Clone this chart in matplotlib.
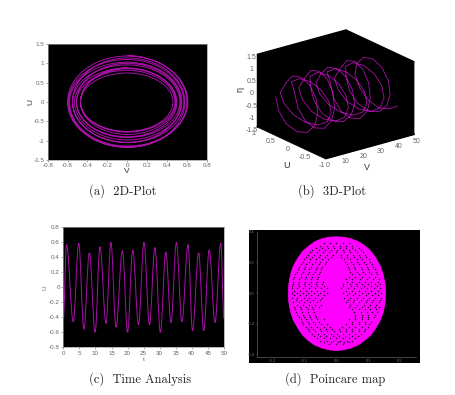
import matplotlib
matplotlib.use('Agg')
import matplotlib.pyplot as plt
from matplotlib.path import Path
from matplotlib.patches import PathPatch, Polygon

plt.rcParams['font.family'] = ['Liberation Sans', 'DejaVu Sans']

W, H = 456, 395
PURPLE = '#a810a8'
MAGENTA = '#ff00ff'
GREY = '#666666'

# (a) extremes of each turn of the orbit
u_top = [1.2, 1.1, 0.96, 0.82, 0.75, 0.86, 1.0, 1.14, 1.19, 1.03, 0.88]
v_right = [0.6, 0.57, 0.53, 0.48, 0.46, 0.5, 0.54, 0.58, 0.61, 0.55, 0.49]
u_bottom = [-1.17, -1.05, -0.92, -0.78, -0.76, -0.9, -1.04, -1.17, -1.14, -0.98, -0.84]
v_left = [-0.59, -0.55, -0.51, -0.47, -0.47, -0.51, -0.55, -0.6, -0.58, -0.53, -0.47]

# (b) trajectory, read turn by turn
v_3d = [2.0, 2.4, 2.8, 3.3, 3.7, 4.1, 4.5, 4.9, 5.3, 5.8, 6.2, 6.6,
        7.0, 7.4, 7.8, 8.3, 8.7, 9.1, 9.5, 9.9, 10.3, 10.8, 11.2, 11.6,
        12.0, 12.4, 12.8, 13.3, 13.7, 14.1, 14.5, 14.9, 15.3, 15.8, 16.2, 16.6,
        17.0, 17.4, 17.8, 18.3, 18.7, 19.1, 19.5, 19.9, 20.3, 20.8, 21.2, 21.6,
        22.0, 22.4, 22.8, 23.3, 23.7, 24.1, 24.5, 24.9, 25.3, 25.8, 26.2, 26.6,
        27.0, 27.4, 27.8, 28.3, 28.7, 29.1, 29.5, 29.9, 30.3, 30.8, 31.2, 31.6,
        32.0, 32.4, 32.8, 33.3, 33.7, 34.1, 34.5, 34.9, 35.3, 35.8, 36.2, 36.6,
        37.0, 37.4, 37.8, 38.3, 38.7, 39.1, 39.5, 39.9, 40.3, 40.8, 41.2, 41.6,
        42.0, 42.4, 42.8, 43.3, 43.7, 44.1, 44.5, 44.9, 45.3, 45.8, 46.2, 46.6,
        47.0, 47.4, 47.8, 48.2, 48.6, 49.0]
u_3d = [0.55, 0.48, 0.28, 0, -0.28, -0.48, -0.55, -0.48, -0.28, 0, 0.28, 0.48,
        0.68, 0.59, 0.34, 0, -0.34, -0.59, -0.68, -0.59, -0.34, 0, 0.34, 0.59,
        0.52, 0.45, 0.26, 0, -0.26, -0.45, -0.52, -0.45, -0.26, 0, 0.26, 0.45,
        0.66, 0.57, 0.33, 0, -0.33, -0.57, -0.66, -0.57, -0.33, 0, 0.33, 0.57,
        0.58, 0.5, 0.29, 0, -0.29, -0.5, -0.58, -0.5, -0.29, 0, 0.29, 0.5,
        0.68, 0.59, 0.34, 0, -0.34, -0.59, -0.68, -0.59, -0.34, 0, 0.34, 0.59,
        0.52, 0.45, 0.26, 0, -0.26, -0.45, -0.52, -0.45, -0.26, 0, 0.26, 0.45,
        0.66, 0.57, 0.33, 0, -0.33, -0.57, -0.66, -0.57, -0.33, 0, 0.33, 0.57,
        0.58, 0.5, 0.29, 0, -0.29, -0.5, -0.58, -0.5, -0.29, 0, 0.29, 0.5,
        0.58, 0.46, 0.23, -0.06, -0.34, -0.56]
eta_3d = [0, -0.55, -0.96, -1.1, -0.96, -0.55, 0, 0.55, 0.96, 1.1, 0.96, 0.55,
          0, -0.41, -0.71, -0.82, -0.71, -0.41, 0, 0.41, 0.71, 0.82, 0.71, 0.41,
          0, -0.58, -1.0, -1.15, -1.0, -0.58, 0, 0.58, 1.0, 1.15, 1.0, 0.58,
          0, -0.44, -0.77, -0.88, -0.77, -0.44, 0, 0.44, 0.77, 0.88, 0.77, 0.44,
          0, -0.52, -0.91, -1.05, -0.91, -0.52, 0, 0.52, 0.91, 1.05, 0.91, 0.52,
          0, -0.41, -0.71, -0.82, -0.71, -0.41, 0, 0.41, 0.71, 0.82, 0.71, 0.41,
          0, -0.58, -1.0, -1.15, -1.0, -0.58, 0, 0.58, 1.0, 1.15, 1.0, 0.58,
          0, -0.44, -0.77, -0.88, -0.77, -0.44, 0, 0.44, 0.77, 0.88, 0.77, 0.44,
          0, -0.52, -0.91, -1.05, -0.91, -0.52, 0, 0.52, 0.91, 1.05, 0.91, 0.52,
          0, -0.5, -0.85, -1.0, -0.85, -0.6]

# (c) peaks and troughs of U(t)
t_ext = [0, 1.0, 3.1, 4.8, 6.4, 8.1, 9.9, 11.4, 13.3, 14.8, 16.4, 18.4, 20.0,
         21.6, 23.4, 25.1, 26.8, 28.5, 30.2, 31.9, 33.5, 35.2, 36.9, 38.8,
         40.2, 42.1, 43.7, 45.4, 47.2, 49.0, 50]
u_ext = [-0.42, 0.57, -0.46, 0.59, -0.56, 0.46, -0.6, 0.54, -0.48, 0.6, -0.53,
         0.49, -0.6, 0.5, -0.5, 0.6, -0.5, 0.53, -0.6, 0.47, -0.47, 0.6, -0.46,
         0.57, -0.58, 0.46, -0.58, 0.5, -0.47, 0.59, -0.42]

# (d) outline of the map and the gaps left between its points
edge_x = [0, 0.024, 0.046, 0.069, 0.088, 0.108, 0.124, 0.138, 0.147, 0.153, 0.155,
          0.153, 0.148, 0.138, 0.124, 0.108, 0.088, 0.069, 0.046, 0.024,
          0, -0.024, -0.046, -0.069, -0.088, -0.106, -0.121, -0.135, -0.144, -0.149, -0.151,
          -0.149, -0.144, -0.135, -0.121, -0.105, -0.084, -0.067, -0.046, -0.024]
edge_y = [0.367, 0.364, 0.354, 0.336, 0.311, 0.274, 0.228, 0.177, 0.12, 0.062, 0,
          -0.062, -0.12, -0.177, -0.228, -0.274, -0.31, -0.338, -0.358, -0.37,
          -0.376, -0.37, -0.358, -0.338, -0.31, -0.274, -0.228, -0.177, -0.12, -0.062, 0,
          0.062, 0.12, 0.177, 0.228, 0.274, 0.311, 0.336, 0.354, 0.364]
gap_rows = {
    0.325: [-0.04, -0.02, 0, 0.02, 0.04],
    0.31: [-0.05, -0.03, -0.01, 0.012, 0.03, 0.05],
    0.295: [-0.065, -0.046, -0.026, -0.008, 0.012, 0.03, 0.05, 0.07],
    0.28: [-0.075, -0.056, -0.036, -0.018, 0.002, 0.02, 0.04, 0.06, 0.078],
    0.265: [-0.082, -0.062, -0.042, -0.022, -0.002, 0.024, 0.044, 0.064, 0.084],
    0.25: [-0.09, -0.07, -0.052, -0.03, -0.012, 0.014, 0.034, 0.052, 0.072, 0.09],
    0.235: [-0.095, -0.075, -0.055, -0.036, -0.018, 0.016, 0.034, 0.054, 0.074, 0.094],
    0.22: [-0.1, -0.083, -0.063, -0.045, -0.026, 0.024, 0.044, 0.064, 0.082, 0.102],
    0.205: [-0.106, -0.086, -0.068, -0.05, -0.032, 0.028, 0.046, 0.066, 0.086, 0.106],
    0.19: [-0.112, -0.094, -0.076, -0.056, -0.036, 0.032, 0.052, 0.072, 0.092, 0.112],
    0.172: [-0.116, -0.098, -0.08, -0.062, -0.044, 0.036, 0.056, 0.076, 0.096, 0.116],
    0.155: [-0.12, -0.1, -0.085, -0.065, -0.048, 0.04, 0.06, 0.08, 0.1, 0.12],
    0.14: [-0.124, -0.104, -0.086, -0.068, -0.05, 0.044, 0.064, 0.084, 0.104, 0.124],
    0.125: [-0.13, -0.11, -0.09, -0.073, -0.055, 0.05, 0.07, 0.09, 0.108, 0.128],
    0.107: [-0.132, -0.112, -0.094, -0.076, -0.058, 0.04, 0.06, 0.082, 0.102, 0.122],
    0.09: [-0.135, -0.118, -0.098, -0.08, -0.06, 0.03, 0.05, 0.075, 0.095, 0.115, 0.133],
    0.075: [-0.136, -0.116, -0.098, -0.08, -0.06, -0.042, 0.032, 0.05, 0.07, 0.09, 0.11, 0.13],
    0.06: [-0.137, -0.12, -0.1, -0.085, -0.065, -0.045, 0.022, 0.042, 0.062, 0.082, 0.1, 0.12, 0.137],
    0.045: [-0.138, -0.118, -0.098, -0.08, -0.06, -0.04, 0.022, 0.045, 0.066, 0.086, 0.108, 0.128],
    0.03: [-0.14, -0.122, -0.105, -0.086, -0.067, -0.047, -0.03, 0.015, 0.035, 0.055, 0.077, 0.097, 0.118, 0.138],
    0.015: [-0.132, -0.114, -0.096, -0.078, -0.06, -0.04, 0.03, 0.05, 0.07, 0.09, 0.11, 0.13],
    0.0: [-0.14, -0.125, -0.105, -0.09, -0.07, -0.05, -0.03, 0.02, 0.04, 0.06, 0.08, 0.1, 0.12, 0.14],
    -0.015: [-0.132, -0.114, -0.096, -0.078, -0.058, -0.038, 0.032, 0.052, 0.072, 0.092, 0.112, 0.132],
    -0.03: [-0.14, -0.122, -0.102, -0.085, -0.066, -0.046, 0.024, 0.044, 0.064, 0.085, 0.104, 0.122, 0.14],
    -0.045: [-0.128, -0.11, -0.092, -0.072, -0.052, 0.036, 0.056, 0.076, 0.096, 0.116, 0.136],
    -0.06: [-0.136, -0.118, -0.1, -0.082, -0.062, 0.03, 0.052, 0.072, 0.092, 0.112, 0.134],
    -0.075: [-0.124, -0.106, -0.086, -0.066, -0.048, 0.044, 0.066, 0.086, 0.106, 0.126],
    -0.09: [-0.134, -0.114, -0.096, -0.076, -0.056, 0.04, 0.06, 0.08, 0.1, 0.12, 0.134],
    -0.107: [-0.13, -0.11, -0.09, -0.072, 0.05, 0.07, 0.09, 0.106, 0.124],
    -0.125: [-0.126, -0.108, -0.09, -0.07, 0.056, 0.076, 0.096, 0.112, 0.128],
    -0.14: [-0.124, -0.104, -0.086, -0.068, 0.06, 0.08, 0.1, 0.12],
    -0.155: [-0.118, -0.1, -0.082, -0.064, 0.06, 0.08, 0.098, 0.118],
    -0.172: [-0.112, -0.096, -0.078, -0.06, -0.04, 0.04, 0.06, 0.08, 0.1],
    -0.19: [-0.108, -0.09, -0.072, -0.054, 0.05, 0.07, 0.09, 0.11],
    -0.205: [-0.104, -0.086, -0.066, -0.048, -0.03, 0.03, 0.05, 0.07, 0.09, 0.104],
    -0.22: [-0.096, -0.08, -0.06, -0.04, -0.02, 0.018, 0.04, 0.06, 0.08, 0.098],
    -0.235: [-0.09, -0.072, -0.052, -0.034, -0.014, 0.008, 0.03, 0.05, 0.07, 0.09],
    -0.25: [-0.086, -0.066, -0.048, -0.028, -0.008, 0.012, 0.03, 0.05, 0.07, 0.088],
    -0.265: [-0.076, -0.058, -0.038, -0.018, 0.002, 0.02, 0.04, 0.06, 0.078],
    -0.28: [-0.07, -0.05, -0.032, -0.012, 0.008, 0.028, 0.048, 0.068],
    -0.295: [-0.06, -0.04, -0.02, 0, 0.02, 0.04, 0.06],
    -0.31: [-0.05, -0.03, -0.01, 0.012, 0.032, 0.05],
    -0.32: [-0.038, -0.018, 0.004, 0.024, 0.04],
    -0.335: [-0.022, 0.0, 0.022],
}

captions = ['(a)  2D-Plot', '(b)  3D-Plot', '(c)  Time Analysis', '(d)  Poincare map']


def rect(left, top, right, bottom):
    return [left / W, 1 - bottom / H, (right - left) / W, (bottom - top) / H]


def style_2d(ax):
    ax.set_facecolor('black')
    for s in ax.spines.values():
        s.set_color('#999999')
        s.set_linewidth(0.5)
    ax.tick_params(colors=GREY, labelsize=4.5, length=1.5, width=0.4, pad=1)


def orbit_path():
    k = 0.5523
    verts = [(0, u_top[0])]
    codes = [Path.MOVETO]
    for i in range(len(u_top)):
        nxt = u_top[i + 1] if i + 1 < len(u_top) else u_top[i]
        ut, vr, ub, vl = u_top[i], v_right[i], u_bottom[i], v_left[i]
        verts += [(k * vr, ut), (vr, k * ut), (vr, 0)]
        verts += [(vr, k * ub), (k * vr, ub), (0, ub)]
        verts += [(k * vl, ub), (vl, k * ub), (vl, 0)]
        verts += [(vl, k * nxt), (k * vl, nxt), (0, nxt)]
        codes += [Path.CURVE4] * 12
    return Path(verts, codes)


def wave_path():
    verts = [(t_ext[0], u_ext[0])]
    codes = [Path.MOVETO]
    for i in range(1, len(t_ext)):
        d = 0.3642 * (t_ext[i] - t_ext[i - 1])
        verts += [(t_ext[i - 1] + d, u_ext[i - 1]), (t_ext[i] - d, u_ext[i]), (t_ext[i], u_ext[i])]
        codes += [Path.CURVE4] * 3
    return Path(verts, codes)


fig = plt.figure(figsize=(W / 100, H / 100), dpi=100)

# (a)
ax = fig.add_axes(rect(47.7, 44, 206.7, 160))
style_2d(ax)
ax.add_patch(PathPatch(orbit_path(), fill=False, edgecolor=PURPLE, linewidth=0.7))
ax.set_xlim(-0.8, 0.8)
ax.set_ylim(-1.5, 1.5)
ax.set_xticks([-0.8, -0.6, -0.4, -0.2, 0, 0.2, 0.4, 0.6, 0.8])
ax.set_xticklabels(['-0.8', '-0.6', '-0.4', '-0.2', '0', '0.2', '0.4', '0.6', '0.8'])
ax.set_yticks([-1.5, -1, -0.5, 0, 0.5, 1, 1.5])
ax.set_yticklabels(['-1.5', '-1', '-0.5', '0', '0.5', '1', '1.5'])
ax.set_xlabel('V', fontsize=6, color='#333333', labelpad=0)
ax.set_ylabel('U', fontsize=6, color='#333333', labelpad=-1)

# (b)
ax = fig.add_axes(rect(234.5, 19.5, 432.5, 173.5), projection='3d', proj_type='ortho')
ax.patch.set_alpha(0)
ax.view_init(elev=21, azim=-127.5)
ax.set_box_aspect((1, 1, 0.69), zoom=1.115)
ax.plot(v_3d, u_3d, eta_3d, color=PURPLE, linewidth=0.6)
ax.set_xlim(0, 50)
ax.set_ylim(-1, 1)
ax.set_zlim(-1.5, 1.5)
ax.set_xticks([0, 10, 20, 30, 40, 50])
ax.set_yticks([-1, -0.5, 0, 0.5, 1])
ax.set_yticklabels(['-1', '-0.5', '0', '0.5', '1'])
ax.set_zticks([-1.5, -1, -0.5, 0, 0.5, 1, 1.5])
ax.set_zticklabels(['-1.5', '-1', '-0.5', '0', '0.5', '1', '1.5'])
for axis in (ax.xaxis, ax.yaxis, ax.zaxis):
    axis.set_pane_color('black')
    axis.pane.set_edgecolor('black')
    axis.line.set_color('black')
    axis.line.set_linewidth(0.4)
    axis._axinfo['grid']['linewidth'] = 0
    axis._axinfo['tick']['inward_factor'] = 0
    axis._axinfo['tick']['outward_factor'] = 0
ax.grid(False)
ax.tick_params(colors=GREY, labelsize=5, pad=-6)
fig.text(367 / W, 1 - 167 / H, 'V', fontsize=6.5, color='#333333', ha='center', va='center')
fig.text(287 / W, 1 - 166 / H, 'U', fontsize=6.5, color='#333333', ha='center', va='center')
fig.text(240 / W, 1 - 90 / H, 'η', fontsize=6.5, color='#333333', ha='center', va='center', rotation=90)

# (c)
ax = fig.add_axes(rect(63.3, 227.3, 224, 347.3))
style_2d(ax)
ax.add_patch(PathPatch(wave_path(), fill=False, edgecolor=PURPLE, linewidth=0.7))
ax.set_xlim(0, 50)
ax.set_ylim(-0.8, 0.8)
ax.set_xticks([0, 5, 10, 15, 20, 25, 30, 35, 40, 45, 50])
ax.set_yticks([-0.8, -0.6, -0.4, -0.2, 0, 0.2, 0.4, 0.6, 0.8])
ax.set_yticklabels(['-0.8', '-0.6', '-0.4', '-0.2', '0', '0.2', '0.4', '0.6', '0.8'])
ax.set_xlabel('t', fontsize=4.5, color=GREY, labelpad=1)
ax.set_ylabel('U', fontsize=4.5, color=GREY, labelpad=1)

# (d)
bg = fig.add_axes(rect(249, 230, 420, 362.7))
bg.set_facecolor('black')
bg.set_xticks([])
bg.set_yticks([])
for s in bg.spines.values():
    s.set_visible(False)
ax = fig.add_axes(rect(256.7, 231.7, 416, 356.7))
ax.set_facecolor('black')
ax.add_patch(Polygon(list(zip(edge_x, edge_y)), closed=True, facecolor=MAGENTA, edgecolor=MAGENTA, linewidth=0.5))
gap_x = [x for row in gap_rows.values() for x in row]
gap_y = [y for y, row in gap_rows.items() for _ in row]
ax.scatter(gap_x, gap_y, s=1.3, c='#300030', marker='o', linewidths=0)
ax.set_xlim(-0.25, 0.25)
ax.set_ylim(-0.415, 0.4)
ax.set_xticks([-0.2, -0.1, 0, 0.1, 0.2])
ax.set_xticklabels(['-0.2', '-0.1', '0.0', '0.1', '0.2'])
ax.set_yticks([-0.4, -0.2, 0, 0.2, 0.4])
ax.set_yticklabels(['-0.4', '-0.2', '0.0', '0.2', '0.4'])
ax.spines['top'].set_visible(False)
ax.spines['right'].set_visible(False)
for side in ('left', 'bottom'):
    ax.spines[side].set_color('#777777')
    ax.spines[side].set_linewidth(0.4)
    ax.spines[side].set_linestyle((0, (1, 1)))
ax.tick_params(colors='#777777', labelsize=3, length=1, width=0.3, pad=0.5)

# captions
cap_x = [123, 332, 140, 335]
cap_y = [191, 191, 379, 379]
for x, y, txt in zip(cap_x, cap_y, captions):
    fig.text(x / W, 1 - y / H, txt, ha='center', va='center', fontsize=9, family=['cmr10', 'DejaVu Serif'], color='#222222')

fig.savefig('out.png', dpi=100)
